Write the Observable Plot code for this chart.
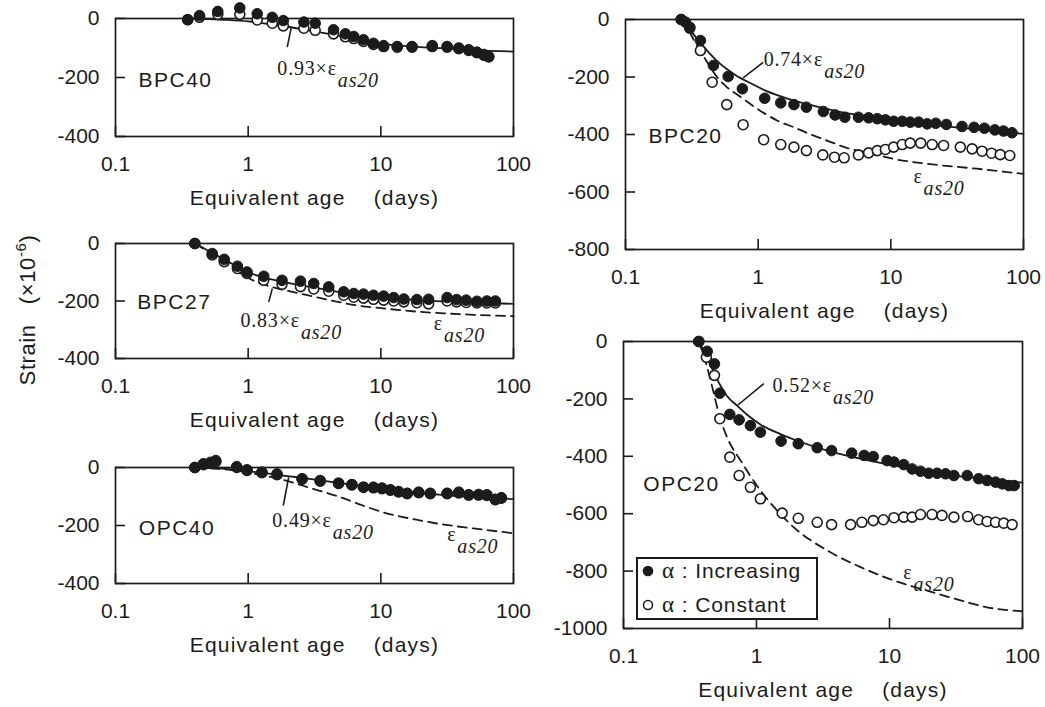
<!DOCTYPE html>
<html><head><meta charset="utf-8">
<script src="https://cdn.jsdelivr.net/npm/d3@7"></script>
<script src="https://cdn.jsdelivr.net/npm/@observablehq/plot@0.6"></script>
<style>
body{margin:0;background:#fff}
#fig{position:relative;width:1045px;height:707px;background:#fff;overflow:hidden}
.panel{position:absolute}
</style></head><body><div id="fig"></div>
<script>
// ---------- tick labels / texts ----------
const xTicks = [0.1, 1, 10, 100];
const xTickLabels = ["0.1", "1", "10", "100"];
const xTitle = "Equivalent age\u00a0\u00a0\u00a0 (days)";
const yTitle = "Strain\u00a0\u00a0\u00a0(\u00d710^-6^)";
const legendLabels = ["Increasing", "Constant"];

// ---------- BPC40 ----------
const bpc40IncAge = [0.35,0.43,0.59,0.865,1.17,1.52,1.84,2.63,3.2,4.4,5.4,6.25,7.4,8.8,10.5,13.3,17.2,24.4,31.6,38.7,46,53,59.7,65];
const bpc40Inc    = [-4,10,24,36,16,4,-7,-12,-16,-38,-52,-61,-72,-84,-92,-95,-95,-92,-95,-100,-106,-114,-122,-129];
const bpc40ConAge = [0.35,0.43,0.59,0.865,1.17,1.52,1.84,2.63,3.2,4.4,5.4,6.25,7.4,8.8,10.5,13.3,17.2,24.4,31.6,38.7,46,53,59.7,65];
const bpc40Con    = [-4,4,14,14,-5,-16,-25,-33,-40,-52,-62,-68,-78,-88,-95,-97,-97,-95,-97,-102,-108,-116,-124,-130];
const bpc40FitAge = [0.35,0.5,0.7,1,1.5,2,3,5,7,10,20,30,50,100];
const bpc40Fit    = [0,-2,-5,-10,-20,-28,-42,-60,-73,-85,-97,-101,-107,-112];

// ---------- BPC27 ----------
const bpc27IncAge = [0.396,0.536,0.66,0.83,0.98,1.31,1.8,2.48,3.12,4.05,5.25,6.25,7.4,8.8,10.5,12.5,14.9,18.7,22.9,31.6,37.3,44,53,63,73];
const bpc27Inc    = [0,-35,-55,-79,-99,-114,-128,-131,-139,-151,-168,-174,-176,-180,-183,-188,-193,-195,-194,-188,-195,-197,-201,-200,-200];
const bpc27ConAge = [0.396,0.536,0.66,0.83,0.98,1.31,1.8,2.48,3.12,4.05,5.25,6.25,7.4,8.8,10.5,12.5,14.9,18.7,22.9,31.6,37.3,44,53,63,73];
const bpc27Con    = [0,-40,-63,-87,-104,-128,-142,-150,-158,-166,-180,-187,-190,-194,-197,-200,-203,-206,-210,-200,-203,-205,-207,-207,-207];
const bpc27FitAge = [0.4,0.5,0.7,1,1.5,2,3,5,7,10,20,30,50,100];
const bpc27Fit    = [0,-25,-62,-100,-125,-137,-152,-170,-180,-187,-198,-202,-206,-210];
const bpc27Eps    = [0,-30,-75,-120,-151,-165,-183,-205,-217,-225,-238,-243,-248,-253];

// ---------- OPC40 ----------
const opc40IncAge = [0.396,0.46,0.52,0.57,0.82,0.98,1.27,1.65,2.55,3.49,4.8,6.05,7.4,8.8,10.2,11.8,13.6,15.8,19.3,23.6,31.6,38.7,46,54.6,63,73,81];
const opc40Inc    = [0,13,18,24,3,-8,-16,-22,-39,-45,-54,-59,-68,-68,-71,-77,-83,-89,-85,-89,-89,-85,-94,-93,-94,-111,-104];
const opc40ConAge = [0.396,0.46,0.52,0.57,0.82,0.98,1.27,1.65,2.55,3.49,4.8,6.05,7.4,8.8,10.2,11.8,13.6,15.8,19.3,23.6,31.6,38.7,46,54.6,63,73,81];
const opc40Con    = [0,10,15,20,0,-10,-18,-25,-40,-47,-55,-60,-68,-70,-73,-78,-84,-90,-87,-90,-90,-88,-95,-95,-96,-110,-106];
const opc40FitAge = [0.4,0.6,0.8,1,1.5,2,3,5,7,10,20,30,50,100];
const opc40Fit    = [0,-3,-8,-13,-22,-30,-40,-54,-63,-73,-88,-95,-102,-109];
const opc40Eps    = [0,-5,-10,-18,-33,-47,-72,-103,-128,-152,-183,-197,-210,-227];

// ---------- BPC20 ----------
const bpc20IncAge = [0.263,0.283,0.305,0.367,0.46,0.594,0.76,1.12,1.48,1.86,2.31,3.1,3.8,4.5,5.7,6.8,7.9,9.1,10.5,12.2,14,16.2,18.8,21.8,26.2,34.4,42.4,50.7,60.8,70.6,81.9];
const bpc20Inc    = [0,-9,-27,-73,-160,-198,-241,-274,-290,-296,-305,-320,-332,-340,-340,-342,-345,-349,-354,-354,-357,-357,-363,-361,-365,-372,-375,-378,-384,-388,-394];
const bpc20ConAge = [0.263,0.305,0.367,0.45,0.58,0.77,1.1,1.48,1.86,2.31,3.07,3.76,4.45,5.7,6.8,7.9,9.1,10.5,12.2,14,16.8,20.5,25,33.4,41,48.7,57.4,66.8,78.8];
const bpc20Con    = [0,-30,-108,-218,-296,-366,-418,-435,-444,-456,-471,-479,-481,-471,-464,-456,-452,-444,-435,-430,-430,-435,-438,-444,-450,-458,-465,-470,-473];
const bpc20FitAge = [0.263,0.3,0.35,0.412,0.5,0.58,0.7,0.82,1,1.17,1.5,1.86,2.5,3.3,4.5,6.3,10.5,18.8,33.4,60,100];
const bpc20Fit    = [0,-30,-70,-108,-148,-172,-198,-215,-235,-250,-268,-282,-298,-311,-325,-334,-351,-365,-377,-388,-398];
const bpc20EpsAge = [0.263,0.3,0.35,0.41,0.49,0.58,0.74,1.04,1.4,1.86,2.5,3.3,4.7,6.5,10.5,18.8,44.4,100];
const bpc20Eps    = [0,-40,-95,-146,-200,-235,-270,-318,-352,-375,-400,-421,-447,-462,-485,-502,-519,-537];

// ---------- OPC20 ----------
const opc20IncAge = [0.368,0.426,0.483,0.53,0.63,0.74,0.9,1.07,1.53,2.06,2.86,3.67,5.2,6.45,7.55,9.6,10.8,12.8,14.8,17.1,19.7,22.8,26.4,30.5,38.4,46.8,54.2,62.7,70.5,79.3,86.6];
const opc20Inc    = [0,-34,-78,-180,-254,-273,-293,-316,-347,-356,-370,-380,-389,-397,-401,-415,-420,-429,-444,-452,-459,-459,-461,-467,-467,-478,-484,-490,-496,-502,-502];
const opc20ConAge = [0.368,0.42,0.483,0.53,0.63,0.74,0.9,1.07,1.56,2.06,2.86,3.67,5.1,6.2,7.55,9.0,10.8,12.8,14.8,17.1,20.9,24.8,30.5,38.7,46.8,54.2,62.7,72.3,83.6];
const opc20Con    = [0,-55,-118,-269,-403,-467,-508,-548,-598,-616,-630,-638,-638,-630,-624,-621,-614,-612,-612,-603,-603,-606,-612,-610,-621,-627,-630,-633,-638];
const opc20FitAge = [0.368,0.42,0.47,0.53,0.6,0.72,0.85,1.07,1.5,2,3.4,6,10.8,19,34,60,100];
const opc20Fit    = [0,-50,-100,-150,-190,-225,-255,-289,-322,-345,-380,-408,-432,-455,-470,-482,-492];
const opc20EpsAge = [0.368,0.42,0.465,0.53,0.6,0.76,1.07,1.43,1.9,3.4,6.05,10.8,19.2,34.2,54,100];
const opc20Eps    = [0,-80,-159,-264,-333,-415,-519,-589,-647,-728,-786,-833,-868,-902,-926,-940];

// ---------- annotations (data coordinates) ----------
const panelNames   = ["BPC40","BPC27","OPC40","BPC20","OPC20"];
const nameAt       = [[0.149,-210],[0.146,-203],[0.15,-210],[0.149,-407],[0.141,-498]];
const fitLabels    = ["0.93\u00d7\u03b5|as20","0.83\u00d7\u03b5|as20","0.49\u00d7\u03b5|as20","0.74\u00d7\u03b5|as20","0.52\u00d7\u03b5|as20"];
const fitLabelAt   = [[1.66,-190],[0.875,-290],[1.52,-206],[1.10,-160],[1.32,-177]];
const leaderFrom   = [[2.11,-31.5],[1.52,-157],[2.02,-33],[0.77,-203],[0.717,-223]];
const leaderTo     = [[1.97,-97],[1.43,-203],[1.84,-131],[1.09,-149],[1.135,-147]];
const epsLabel     = "\u03b5|as20";
const epsLabelAt   = [null,[25.1,-301.6],[31.6,-252],[14.8,-570],[12.7,-826]];

// ---------- drawing ----------
const INK = "#1b1b1b";
const SANS = "'Liberation Sans', Arial, sans-serif";
const SERIF = "'Liberation Serif', 'Times New Roman', serif";
const rows = (xs, ys) => xs.map((x, i) => ({x, y: ys[i]}));

function panel(k, o) {
  const marks = [
    Plot.frame({stroke: INK, strokeWidth: 1.7}),
    Plot.axisX({ticks: xTicks, tickFormat: d => xTickLabels[xTicks.indexOf(d)], tickSize: -10, tickPadding: 30,
      color: INK, strokeWidth: 1.6, fontSize: 21, label: null}),
    Plot.axisY({ticks: o.yTicks, tickFormat: d => String(d), tickSize: -10, tickPadding: 26,
      color: INK, strokeWidth: 1.6, fontSize: 21, label: null}),
    Plot.text([xTitle], {frameAnchor: "bottom", lineAnchor: "top", dy: 54, fontSize: 21, fill: INK}),
  ];
  if (o.eps) marks.push(Plot.line(o.eps, {x: "x", y: "y", curve: "monotone-x", stroke: INK, strokeWidth: 1.8, strokeDasharray: "9,6"}));
  marks.push(Plot.line(o.fit, {x: "x", y: "y", curve: "monotone-x", stroke: INK, strokeWidth: 1.8}));
  marks.push(Plot.dot(o.con, {x: "x", y: "y", r: 5, fill: "white", stroke: INK, strokeWidth: 1.6}));
  marks.push(Plot.dot(o.inc, {x: "x", y: "y", r: 5.3, fill: INK, stroke: INK, strokeWidth: 1}));
  marks.push(Plot.link([0], {x1: () => leaderFrom[k][0], y1: () => leaderFrom[k][1], x2: () => leaderTo[k][0], y2: () => leaderTo[k][1], stroke: INK, strokeWidth: 1.6}));
  marks.push(Plot.text([panelNames[k]], {x: () => nameAt[k][0], y: () => nameAt[k][1], textAnchor: "start", lineAnchor: "middle", fontSize: 21, fill: INK}));
  marks.push(Plot.text([fitLabels[k]], {x: () => fitLabelAt[k][0], y: () => fitLabelAt[k][1], textAnchor: "start", lineAnchor: "bottom", fontSize: 20, fontFamily: SERIF, fill: INK}));
  if (epsLabelAt[k]) marks.push(Plot.text([epsLabel], {x: () => epsLabelAt[k][0], y: () => epsLabelAt[k][1], textAnchor: "start", lineAnchor: "bottom", fontSize: 20, fontFamily: SERIF, fill: INK}));
  if (o.extra) marks.push(...o.extra);
  const svg = Plot.plot({
    width: o.width, height: o.height,
    marginLeft: o.ml, marginRight: o.mr, marginTop: o.mt, marginBottom: o.mb,
    x: {type: "log", domain: [0.1, 100]},
    y: {domain: o.yDomain},
    style: {background: "transparent", overflow: "visible", fontFamily: SANS, fontSize: "21px", color: INK},
    marks
  });
  finish(svg);
  const div = document.createElement("div");
  div.className = "panel";
  div.style.left = o.left + "px";
  div.style.top = o.top + "px";
  div.appendChild(svg);
  document.getElementById("fig").appendChild(div);
}

const NS = "http://www.w3.org/2000/svg";
function tspan(txt, attrs) {
  const t = document.createElementNS(NS, "tspan");
  t.textContent = txt;
  for (const [k, v] of Object.entries(attrs || {})) t.setAttribute(k, v);
  return t;
}
function finish(svg) {
  svg.querySelectorAll("text").forEach(t => {
    const s = t.textContent;
    if (s.includes("|")) {
      const [a, b] = s.split("|");
      t.textContent = "";
      t.setAttribute("letter-spacing", "0.8");
      t.append(tspan(a), tspan(b, {dy: "12", dx: "1", "font-style": "italic"}));
    } else if (s.includes("^")) {
      const [a, b, c] = s.split("^");
      t.textContent = "";
      t.setAttribute("letter-spacing", "0.6");
      t.append(tspan(a), tspan(b, {dy: "-9", "font-size": "15"}), tspan(c, {dy: "9"}));
    } else if (s === xTitle) {
      t.setAttribute("letter-spacing", "1.2");
    } else if (panelNames.includes(s)) {
      t.setAttribute("letter-spacing", "1.5");
    }
  });
}

const yTitleMark = Plot.text([yTitle], {frameAnchor: "left", rotate: -90, dx: -88, dy: 9, fontSize: 22, fill: INK, textAnchor: "middle", lineAnchor: "middle"});

panel(0, {left: 0, top: 0, width: 540, height: 215, ml: 115, mr: 27, mt: 18, mb: 79,
  yDomain: [-400, 0], yTicks: [0, -200, -400],
  inc: rows(bpc40IncAge, bpc40Inc), con: rows(bpc40ConAge, bpc40Con), fit: rows(bpc40FitAge, bpc40Fit)});
panel(1, {left: 0, top: 215, width: 540, height: 220, ml: 115, mr: 27, mt: 28, mb: 77,
  yDomain: [-400, 0], yTicks: [0, -200, -400],
  inc: rows(bpc27IncAge, bpc27Inc), con: rows(bpc27ConAge, bpc27Con), fit: rows(bpc27FitAge, bpc27Fit),
  eps: rows(bpc27FitAge, bpc27Eps), extra: [yTitleMark]});
panel(2, {left: 0, top: 435, width: 540, height: 272, ml: 115, mr: 27, mt: 32, mb: 124,
  yDomain: [-400, 0], yTicks: [0, -200, -400],
  inc: rows(opc40IncAge, opc40Inc), con: rows(opc40ConAge, opc40Con), fit: rows(opc40FitAge, opc40Fit),
  eps: rows(opc40FitAge, opc40Eps)});
panel(3, {left: 540, top: 0, width: 505, height: 330, ml: 85, mr: 22, mt: 19, mb: 81,
  yDomain: [-800, 0], yTicks: [0, -200, -400, -600, -800],
  inc: rows(bpc20IncAge, bpc20Inc), con: rows(bpc20ConAge, bpc20Con), fit: rows(bpc20FitAge, bpc20Fit),
  eps: rows(bpc20EpsAge, bpc20Eps)});
panel(4, {left: 540, top: 330, width: 505, height: 377, ml: 83, mr: 23, mt: 11, mb: 79,
  yDomain: [-1000, 0], yTicks: [0, -200, -400, -600, -800, -1000],
  inc: rows(opc20IncAge, opc20Inc), con: rows(opc20ConAge, opc20Con), fit: rows(opc20FitAge, opc20Fit),
  eps: rows(opc20EpsAge, opc20Eps)});

// ---------- legend (overlay box) ----------
(function legend() {
  const box = d3.select("#fig").append("div").attr("class", "panel")
    .style("left", "636px").style("top", "557px");
  const svg = box.append("svg").attr("width", 182).attr("height", 63)
    .style("display", "block").style("overflow", "visible");
  svg.append("rect").attr("x", 1).attr("y", 1).attr("width", 180).attr("height", 61)
    .attr("fill", "white").attr("stroke", INK).attr("stroke-width", 2);
  const rowsY = [14, 48];
  svg.append("circle").attr("cx", 12).attr("cy", rowsY[0]).attr("r", 5.3).attr("fill", INK);
  svg.append("circle").attr("cx", 12).attr("cy", rowsY[1]).attr("r", 4.5).attr("fill", "white").attr("stroke", INK).attr("stroke-width", 1.6);
  legendLabels.forEach((lab, i) => {
    const t = svg.append("text").attr("x", 26).attr("y", rowsY[i] + 7)
      .attr("fill", INK).style("font-family", SANS).style("font-size", "21px").attr("letter-spacing", "0.9");
    t.append("tspan").style("font-family", SERIF).style("font-size", "23px").text("\u03b1");
    t.append("tspan").text(" : " + lab);
  });
})();
</script></body></html>
